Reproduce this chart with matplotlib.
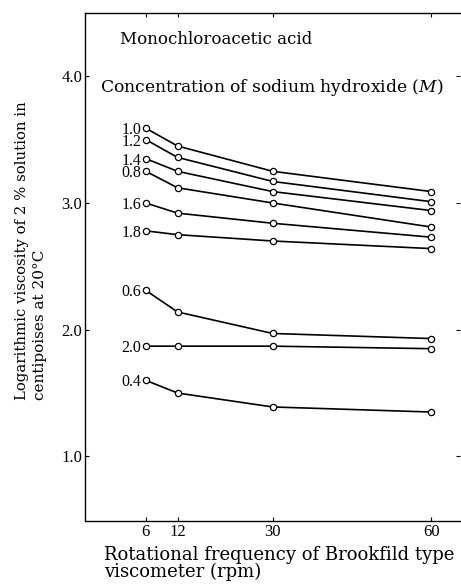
import matplotlib
matplotlib.use("Agg")
import matplotlib.pyplot as plt

plt.rcParams['font.family'] = ['DejaVu Serif']
plt.rcParams['mathtext.fontset'] = 'dejavuserif'

# rotational frequency (rpm)
rpm = [6, 12, 30, 60]

# log viscosity for each NaOH concentration (M)
conc_labels = ["1.0", "1.2", "1.4", "0.8", "1.6", "1.8", "0.6", "2.0", "0.4"]
visc_10 = [3.59, 3.45, 3.25, 3.09]
visc_12 = [3.50, 3.36, 3.17, 3.01]
visc_14 = [3.35, 3.25, 3.09, 2.94]
visc_08 = [3.25, 3.12, 3.00, 2.81]
visc_16 = [3.00, 2.92, 2.84, 2.73]
visc_18 = [2.78, 2.75, 2.70, 2.64]
visc_06 = [2.31, 2.14, 1.97, 1.93]
visc_20 = [1.87, 1.87, 1.87, 1.85]
visc_04 = [1.60, 1.50, 1.39, 1.35]
series = [visc_10, visc_12, visc_14, visc_08, visc_16,
          visc_18, visc_06, visc_20, visc_04]

yticks = [1.0, 2.0, 3.0, 4.0]

num_font = dict(family="Liberation Serif", size=12)

fig = plt.figure(figsize=(4.61, 5.84), dpi=100)
ax = fig.add_axes([0.1844, 0.1079, 0.8134, 0.8699])

for lab, vals in zip(conc_labels, series):
    ax.plot(rpm, vals, color="black", lw=1.2, marker="o", ms=4.5,
            mfc="white", mec="black", mew=0.9)
    ax.text(rpm[0] - 0.8, vals[0], lab, ha="right", va="center_baseline",
            family="Liberation Serif", size=11.5)

ax.set_xlim(-5.5, 65.4)
ax.set_ylim(0.49, 4.5)
ax.set_xticks(rpm)
ax.set_xticklabels([str(r) for r in rpm], fontdict=num_font)
ax.set_yticks(yticks)
ax.set_yticklabels([f"{v:.1f}" for v in yticks], fontdict=num_font)
ax.tick_params(direction="in", length=3, width=0.8, top=True, right=True, pad=2)
ax.spines["right"].set_visible(False)
for s in ["left", "bottom", "top"]:
    ax.spines[s].set_linewidth(1.0)

ax.text(0.093, 0.947, "Monochloroacetic acid", transform=ax.transAxes,
        fontsize=12, va="center", ha="left")
ax.text(0.041, 0.854, "Concentration of sodium hydroxide ($M$)",
        transform=ax.transAxes, fontsize=12.3, va="center", ha="left")

fig.text(22 / 461, 1 - 400 / 584, "Logarithmic viscosity of 2 % solution in",
         rotation=90, ha="center", va="bottom", fontsize=10.7)
fig.text(40 / 461, 1 - 400 / 584, "centipoises at 20°C",
         rotation=90, ha="center", va="bottom", fontsize=11)
fig.text(104 / 461, 1 - 555 / 584, "Rotational frequency of Brookfild type",
         ha="left", va="center", fontsize=13)
fig.text(104 / 461, 1 - 572 / 584, "viscometer (rpm)",
         ha="left", va="center", fontsize=13)

fig.savefig("out.png", dpi=100)
